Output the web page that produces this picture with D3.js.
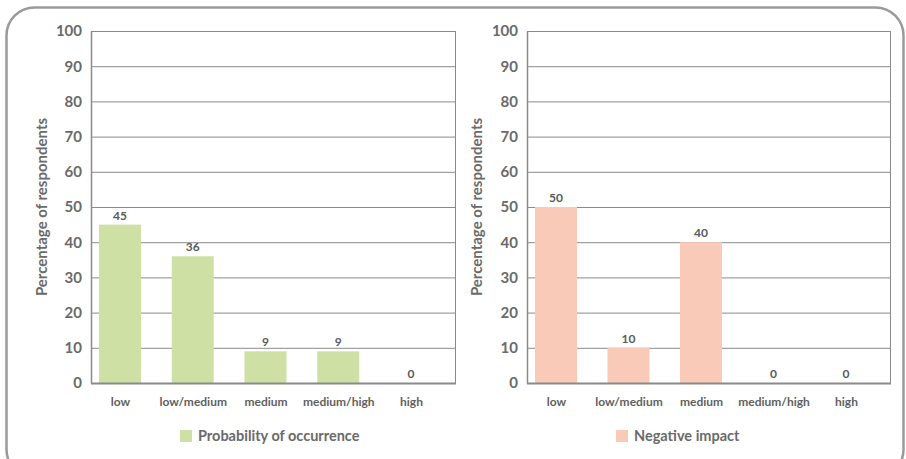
<!DOCTYPE html>
<html><head><meta charset="utf-8">
<script src="https://cdn.jsdelivr.net/npm/d3@7"></script>
<style>
body{margin:0;background:#fff;}
svg{display:block;font-family:"Century Gothic","Lato","DejaVu Sans",sans-serif;}
</style></head>
<body>
<svg id="c" width="906" height="459"></svg>
<script>
const categories = ["low","low/medium","medium","medium/high","high"];
const probabilityValues = [45,36,9,9,0];
const impactValues = [50,10,40,0,0];
const yTicks = [0,10,20,30,40,50,60,70,80,90,100];
const seriesNames = ["Probability of occurrence","Negative impact"];
const seriesColors = ["#cfe0a4","#f8cab7"];

(function(){
const svg = d3.select("#c");
svg.append("rect").attr("x",6.5).attr("y",7.5).attr("width",897).attr("height",470)
  .attr("rx",28).attr("fill","none").attr("stroke","#9a9a9a").attr("stroke-width",2.5);

const panels = [
  {left:91, right:455, values:probabilityValues, color:seriesColors[0], name:seriesNames[0], titleX:42, legendX:180},
  {left:527, right:890, values:impactValues, color:seriesColors[1], name:seriesNames[1], titleX:477, legendX:616}
];
const plotTop = 31, base = 383;
const y = d3.scaleLinear().domain([0,100]).range([base, plotTop]);

panels.forEach(p => {
  const g = svg.append("g");
  const x = d3.scalePoint().domain(categories).range([p.left+29, p.right-44]);
  const bw = 42;
  g.append("g").selectAll("line").data(yTicks.filter(t=>t>0)).join("line")
    .attr("x1",p.left).attr("x2",p.right).attr("y1",d=>y(d)+0.5).attr("y2",d=>y(d)+0.5)
    .attr("stroke","#8a8a8a").attr("stroke-width",1);
  g.append("line").attr("x1",p.right+0.5).attr("x2",p.right+0.5).attr("y1",plotTop).attr("y2",base)
    .attr("stroke","#8a8a8a");
  g.append("g").selectAll("rect").data(p.values).join("rect")
    .attr("x",(d,i)=>x(categories[i])-bw/2).attr("width",bw)
    .attr("y",d=>y(d)).attr("height",d=>base-y(d)).attr("fill",p.color);
  g.append("g").selectAll("text").data(p.values).join("text")
    .attr("x",(d,i)=>x(categories[i])).attr("y",d=>y(d)-5)
    .attr("text-anchor","middle").attr("font-size",12).attr("font-weight","bold")
    .attr("fill","#5a5a5a").attr("font-family","Lato, sans-serif").text(d=>d);
  const ya = d3.axisLeft(y).tickValues(yTicks).tickSize(0).tickPadding(9);
  const yg = g.append("g").attr("transform",`translate(${p.left},0)`).call(ya);
  yg.select(".domain").attr("stroke","#8a8a8a").attr("stroke-width",1.5);
  yg.selectAll("text").attr("font-size",15).attr("font-weight","bold").attr("fill","#6a6a6a")
    .attr("font-family","Lato, sans-serif");
  g.append("line").attr("x1",p.left).attr("x2",p.right+1).attr("y1",base+0.5).attr("y2",base+0.5)
    .attr("stroke","#8a8a8a").attr("stroke-width",2);
  const xa = d3.axisBottom(x).tickSize(0).tickPadding(14);
  const xg = g.append("g").attr("transform",`translate(0,${base})`).call(xa);
  xg.select(".domain").remove();
  xg.selectAll("text").attr("font-size",12).attr("font-weight","bold").attr("fill","#5f5f5f")
    .attr("font-family","Lato, sans-serif");
  g.append("text").attr("transform",`translate(${p.titleX},${(plotTop+base)/2}) rotate(-90)`)
    .attr("text-anchor","middle").attr("dy","0.35em").attr("font-size",15).attr("font-weight","bold")
    .attr("fill","#6a6a6a").attr("font-family","Lato, sans-serif").text("Percentage of respondents");
  g.append("rect").attr("x",p.legendX).attr("y",430).attr("width",12).attr("height",12).attr("fill",p.color);
  g.append("text").attr("x",p.legendX+18).attr("y",436).attr("dy","0.35em").attr("font-size",14.5)
    .attr("font-weight","bold").attr("fill","#6a6a6a").attr("font-family","Lato, sans-serif").text(p.name);
});
})();
</script>
</body></html>
